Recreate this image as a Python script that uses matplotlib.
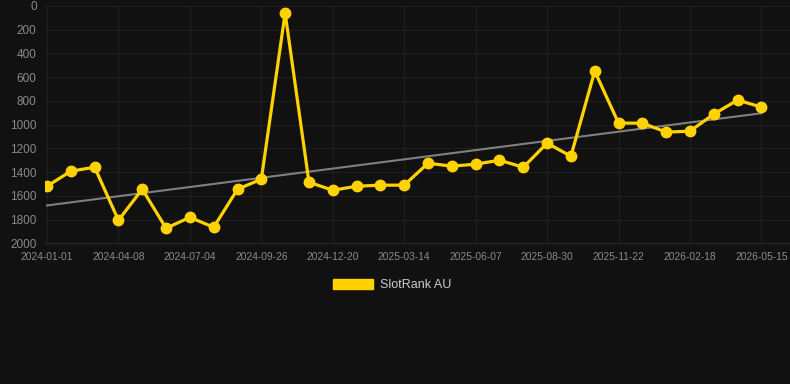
import numpy as np
import matplotlib
matplotlib.use('Agg')
import matplotlib.pyplot as plt
from matplotlib.patches import Patch

plt.rcParams['font.family'] = ['Liberation Sans', 'DejaVu Sans']

# rank values (lower is better), one point per observation
ranks = [1519, 1392, 1359, 1806, 1544, 1873, 1781, 1865, 1544, 1460,
         59, 1485, 1553, 1519, 1510, 1510, 1325, 1350, 1333, 1300,
         1359, 1156, 1266, 549, 987, 987, 1063, 1055, 911, 793, 852]
# only every third date label is shown on the axis
tick_idx = [0, 3, 6, 9, 12, 15, 18, 21, 24, 27, 30]
tick_labels = ['2024-01-01', '2024-04-08', '2024-07-04', '2024-09-26', '2024-12-20',
               '2025-03-14', '2025-06-07', '2025-08-30', '2025-11-22', '2026-02-18',
               '2026-05-15']
y_ticks = [0, 200, 400, 600, 800, 1000, 1200, 1400, 1600, 1800, 2000]

bg = '#111111'
yellow = '#ffd200'

fig = plt.figure(figsize=(7.9, 3.84), dpi=100, facecolor=bg)
ax = fig.add_axes([45 / 790, 1 - 243.3 / 384, 745 / 790, 237.3 / 384])
ax.set_facecolor(bg)

x = np.arange(len(ranks))

# linear trend
k, b = np.polyfit(x, ranks, 1)
ax.plot([x[0], x[-1]], [k * x[0] + b, k * x[-1] + b], color='#808080', lw=1.5, zorder=2)

ax.plot(x, ranks, color=yellow, lw=2.3, marker='o', ms=7.5, zorder=3)

ax.set_ylim(2000, 0)
ax.set_xlim(-0.084, 31.2)
ax.set_yticks(y_ticks)
ax.set_xticks(tick_idx)
ax.set_xticklabels(tick_labels)

ax.grid(True, color='#1f1f1f', lw=0.8)
ax.set_axisbelow(True)
for s in ['top', 'right', 'left']:
    ax.spines[s].set_visible(False)
ax.spines['bottom'].set_color('#2a2a2a')

ax.tick_params(axis='y', colors='#8a8a8a', labelsize=8.5, length=0, pad=6)
ax.tick_params(axis='x', colors='#8a8a8a', labelsize=7.4, length=0, pad=6)

fig.legend(handles=[Patch(facecolor=yellow, edgecolor=yellow, label='SlotRank AU')],
           loc='center', bbox_to_anchor=(392 / 790, 1 - 285 / 384), frameon=False,
           fontsize=9, labelcolor='#cccccc', handlelength=3.2, handleheight=0.9,
           handletextpad=0.6)

fig.savefig('out.png', dpi=100, facecolor=bg)
